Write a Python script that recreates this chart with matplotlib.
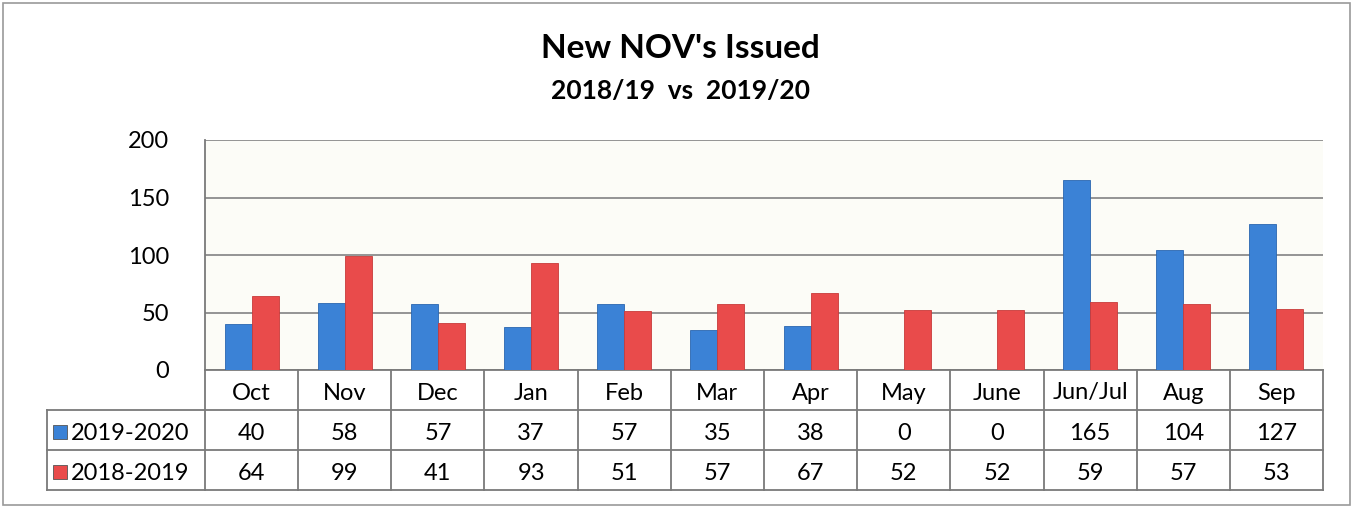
import numpy as np
import matplotlib.pyplot as plt
from matplotlib.patches import Rectangle
import matplotlib.transforms as mtransforms

months = ["Oct", "Nov", "Dec", "Jan", "Feb", "Mar", "Apr", "May", "June", "Jun/Jul", "Aug", "Sep"]
series_names = ["2019-2020", "2018-2019"]
vals_2019_2020 = [40, 58, 57, 37, 57, 35, 38, 0, 0, 165, 104, 127]
vals_2018_2019 = [64, 99, 41, 93, 51, 57, 67, 52, 52, 59, 57, 53]

BLUE = "#3b82d6"
RED = "#e94b4b"
GRID = "#8c8c8c"

plt.rcParams['font.family'] = ['Lato', 'DejaVu Sans']

W, H = 1354, 507
fig = plt.figure(figsize=(W / 100, H / 100), dpi=100)

def fy(y):
    return 1 - y / H

# outer chart frame
fig.patches.append(Rectangle((3 / W, fy(505)), 1347 / W, 502 / H,
                             transform=fig.transFigure, fill=False,
                             edgecolor="#9a9a9a", linewidth=1.2))

x0, x1, ytop, ybot = 205, 1323, 140, 370
ax = fig.add_axes([x0 / W, fy(ybot), (x1 - x0) / W, (ybot - ytop) / H])
ax.set_facecolor("#fcfcf7")

x = np.arange(len(months))
bw = 0.29
ax.bar(x - bw / 2, vals_2019_2020, width=bw, color=BLUE, edgecolor="#2a66b0", linewidth=0.6, zorder=3)
ax.bar(x + bw / 2, vals_2018_2019, width=bw, color=RED, edgecolor="#c83a3a", linewidth=0.6, zorder=3)

ax.set_xlim(-0.5, len(months) - 0.5)
ax.set_ylim(0, 200)
ax.set_yticks([0, 50, 100, 150, 200])
ax.yaxis.grid(True, color=GRID, linewidth=1.3, zorder=0)
ax.tick_params(axis='y', length=0, labelsize=17, pad=26)
ax.set_xticks([])
for side in ["top", "right", "bottom"]:
    ax.spines[side].set_visible(False)
ax.spines["left"].set_color("#7a7a7a")
ax.spines["left"].set_linewidth(1.3)

# data table under the axis
tr = mtransforms.blended_transform_factory(ax.transData, fig.transFigure)
row_y = [370, 410, 450, 490]
label_left = -0.5 - (x0 - 47) / ((x1 - x0) / len(months))
lc = "#7a7a7a"
lw = 1.3

# horizontal lines
ax.plot([-0.5, 11.5], [fy(row_y[0])] * 2, transform=tr, color=lc, lw=lw, clip_on=False)
for yy in row_y[1:]:
    ax.plot([label_left, 11.5], [fy(yy)] * 2, transform=tr, color=lc, lw=lw, clip_on=False)
# vertical lines
for i in range(len(months) + 1):
    ax.plot([i - 0.5, i - 0.5], [fy(row_y[0]), fy(row_y[3])], transform=tr,
            color=lc, lw=lw, clip_on=False)
ax.plot([label_left, label_left], [fy(row_y[1]), fy(row_y[3])], transform=tr,
        color=lc, lw=lw, clip_on=False)

for i, m in enumerate(months):
    ax.text(i, fy((row_y[0] + row_y[1]) / 2 + 3), m, transform=tr, ha="center", va="center", fontsize=17)
    ax.text(i, fy((row_y[1] + row_y[2]) / 2 + 3), str(vals_2019_2020[i]), transform=tr,
            ha="center", va="center", fontsize=17)
    ax.text(i, fy((row_y[2] + row_y[3]) / 2 + 3), str(vals_2018_2019[i]), transform=tr,
            ha="center", va="center", fontsize=17)

# row labels with legend keys
for name, col, (ya, yb) in zip(series_names, [BLUE, RED], [(410, 450), (450, 490)]):
    yc = (ya + yb) / 2 + 2
    fig.patches.append(Rectangle((53 / W, fy(yc + 7)), 14 / W, 14 / H,
                                 transform=fig.transFigure, facecolor=col,
                                 edgecolor="#555555", linewidth=0.6))
    fig.text(71 / W, fy(yc + 1), name, ha="left", va="center", fontsize=17)

fig.text(680 / W, fy(48), "New NOV's Issued", ha="center", va="center",
         fontsize=24, fontweight="bold")
fig.text(680 / W, fy(91), "2018/19  vs  2019/20", ha="center", va="center",
         fontsize=19, fontweight="bold")

fig.savefig("out.png", dpi=100, facecolor="white")
